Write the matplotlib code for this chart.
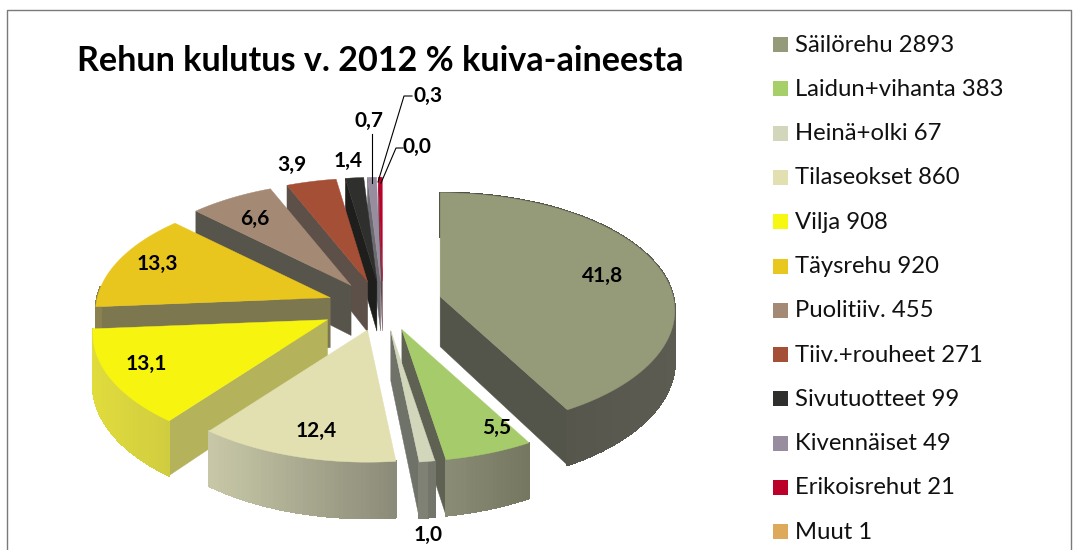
import numpy as np
import matplotlib
matplotlib.use("Agg")
import matplotlib.pyplot as plt
from matplotlib.patches import Polygon, Rectangle
from matplotlib.colors import to_rgb

# rehut ja maarat
names = ["Säilörehu", "Laidun+vihanta", "Heinä+olki", "Tilaseokset", "Vilja", "Täysrehu",
         "Puolitiiv.", "Tiiv.+rouheet", "Sivutuotteet", "Kivennäiset", "Erikoisrehut", "Muut"]
amounts = [2893, 383, 67, 860, 908, 920, 455, 271, 99, 49, 21, 1]

top_colors = ["#959a78", "#a6cb6a", "#d2d6bb", "#e2e0b0", "#f7f510", "#e8c61e",
              "#a48a74", "#a44f36", "#2f2f2d", "#978d9e", "#bb0029", "#dcaa5a"]
legend_colors = ["#959a78", "#a6cf6a", "#d2d6bb", "#e2e0b0", "#f7f812", "#e8c81e",
                 "#a48a74", "#a44f36", "#2f2f2d", "#978d9e", "#bb0029", "#dcaa5a"]
# leikkauspinnat
cut_colors = ["#54554a", "#5f6152", "#6f7268", "#a8a888", "#b5b25c", "#7d7750",
              "#57544b", "#5c5048", "#1e1e1c", "#6a6a70", "#6a4048", "#888888"]
# kaaren reunat vasen -> oikea
arc_left = ["#4f4f45", "#8a8c76", "#85877a", "#c8c8a8", "#e0dc3c", "#8a8050",
            "#5a564c", "#5a4a40", "#222222", "#666666", "#666666", "#888888"]
arc_right = ["#5c5c52", "#74765f", "#6e7068", "#8a8a78", "#d0cc40", "#8a8050",
             "#5a564c", "#5a4a40", "#222222", "#666666", "#666666", "#888888"]

label_xy = [(603, 276), (497, 428), (428, 535), (316, 431), (146, 364), (157, 264),
            (255, 219), (292, 165), (348, 161), (369, 121), (428, 96), (417, 147)]
# pienet siirrot kuvan mukaan
nudges = {0: (3, -3), 4: (-6, 2)}

total = sum(amounts)
edges = np.cumsum([0] + amounts) / total * 2 * np.pi

CX, CY = 383, 306
A, B = 233, 118
PERSP = 0.12
EX, EY = 56, 25
DEPTH = 50


def project(theta, r, apex, z=0):
    X = r * np.sin(theta)
    Y = r * np.cos(theta)
    s = 1 - PERSP * Y
    return apex[0] + A * X * s, apex[1] - B * Y * s + z * DEPTH * s


def lerp(c1, c2, t):
    a, b = np.array(to_rgb(c1)), np.array(to_rgb(c2))
    return tuple(a + (b - a) * t)


def draw_slice(ax, i):
    t0, t1 = edges[i], edges[i + 1]
    if t1 - t0 < 0.004:
        return
    mid = (t0 + t1) / 2
    nx, ny = nudges.get(i, (0, 0))
    apex = (CX + EX * np.sin(mid) + nx, CY - EY * np.cos(mid) + ny)
    tt = np.linspace(t0, t1, max(int((t1 - t0) * 60), 3))

    # radial cut faces, only the ones turned to the viewer
    for ang, sign in ((t0, 1), (t1, -1)):
        normal_y = sign * np.sin(ang)
        if normal_y < 0:
            pts = [project(ang, 0, apex), project(ang, 1, apex),
                   project(ang, 1, apex, 1), project(ang, 0, apex, 1)]
            ax.add_patch(Polygon(pts, fc=cut_colors[i], ec=cut_colors[i], lw=0.3))

    # outer arc
    xs = [project(t, 1, apex)[0] for t in tt]
    xmin, xmax = min(xs), max(xs)
    for a, b in zip(tt[:-1], tt[1:]):
        if np.cos((a + b) / 2) > 0.1 and i != 0:
            continue
        p1, p2 = project(a, 1, apex), project(b, 1, apex)
        f = ((p1[0] + p2[0]) / 2 - xmin) / max(xmax - xmin, 1)
        col = lerp(arc_left[i], arc_right[i], f)
        pts = [p1, p2, project(b, 1, apex, 1), project(a, 1, apex, 1)]
        ax.add_patch(Polygon(pts, fc=col, ec=col, lw=1.0, antialiased=False))

    # top
    top = [project(0, 0, apex)] + [project(t, 1, apex) for t in tt]
    ax.add_patch(Polygon(top, fc=top_colors[i], ec=top_colors[i], lw=0.3))


def main():
    plt.rcParams["font.family"] = ["Lato", "DejaVu Sans"]
    fig = plt.figure(figsize=(10.77, 5.5), dpi=100)
    ax = fig.add_axes([0, 0, 1, 1])
    ax.set_xlim(0, 1077)
    ax.set_ylim(550, 0)
    ax.axis("off")

    # frame
    ax.plot([7, 7, 1071, 1071], [550, 10, 10, 550], color="#7a7a7a", lw=1)

    ax.text(380, 61, "Rehun kulutus v. 2012 % kuiva-aineesta", fontsize=24.6, fontweight="bold",
            ha="center", va="center", color="black")

    # back to front
    for i in [10, 9, 8, 7, 6, 5, 4, 3, 1, 2, 0]:
        draw_slice(ax, i)

    # leader lines
    ax.plot([372, 372], [134, 183], color="black", lw=0.8)
    ax.plot([412, 404, 378], [96, 96, 182], color="black", lw=0.8)
    ax.plot([403, 396, 381], [148, 148, 183], color="black", lw=0.8)

    for i, amount in enumerate(amounts):
        pct = f"{100 * amount / total:.1f}".replace(".", ",")
        ax.text(label_xy[i][0], label_xy[i][1], pct, fontsize=15, fontweight="bold",
                ha="center", va="center", color="black")

    # legend
    for i, name in enumerate(names):
        y = 44 + i * 44.3
        ax.add_patch(Rectangle((773, y - 7), 15, 15, fc=legend_colors[i], ec="none"))
        ax.text(795, y + 1, f"{name} {amounts[i]}", fontsize=17.2, ha="left", va="center", color="#111111")

    fig.savefig("out.png", dpi=100)


if __name__ == "__main__":
    main()
